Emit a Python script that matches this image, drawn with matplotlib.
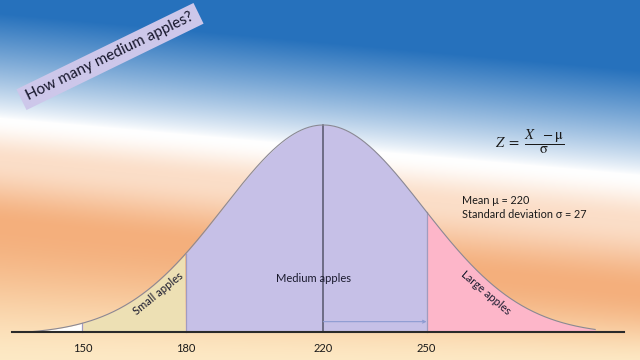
import numpy as np
import matplotlib
matplotlib.use("Agg")
import matplotlib.pyplot as plt
from matplotlib.patches import Polygon

# ---- data ----
tick_values = [150, 180, 220, 250]
tick_labels = ["150", "180", "220", "250"]
mean_value = 220
sd_value = 27
curve_sd = 29            # drawn width of the bell
tail_ends = [134, 299]   # where the drawn curve meets the axis
region_edges = [134, 150, 180, 250, 299]
region_colors = ["#ffffff", "#ede0b4", "#c6c0e7", "#fdb6c9"]
region_names = ["", "Small apples", "Medium apples", "Large apples"]
title_text = "How many medium apples?"

plt.rcParams['font.family'] = ['Lato', 'DejaVu Sans']
plt.rcParams['mathtext.fontset'] = 'stix'

fig = plt.figure(figsize=(6.4, 3.6), dpi=100)

# ---- background gradient ----
H, W = 360, 640
yy, xx = np.mgrid[0:H, 0:W].astype(float)
yw = 118 + 0.089 * xx
yo = 223 + 0.105 * xx
blue = np.array([38, 113, 188]) / 255
white = np.array([1.0, 1.0, 1.0])
peach = np.array([251, 222, 200]) / 255
orange = np.array([244, 175, 124]) / 255
cream = np.array([253, 234, 198]) / 255

def smooth(t):
    t = np.clip(t, 0, 1)
    return t * t * (3 - 2 * t)

tw = 105.0
t_up = np.clip((yw - yy) / tw, 0, 1) ** 0.85
above = (yy <= yw)[..., None]
col_up = white + (blue - white) * t_up[..., None]
g = np.clip((yy - yw) / (yo - yw), 0, 1)
g1 = smooth(g / 0.4)
g2 = smooth((g - 0.4) / 0.6)
col_mid = white + (peach - white) * g1[..., None]
col_mid = col_mid + (orange - peach) * g2[..., None]
h = smooth((yy - yo) / (H + 10 - yo))
col_low = orange + (cream - orange) * h[..., None]
below_o = (yy > yo)[..., None]
img = np.where(above, col_up, np.where(below_o, col_low, col_mid))

bg = fig.add_axes([0, 0, 1, 1])
bg.imshow(img, extent=[0, W, H, 0], aspect='auto', interpolation='bilinear')
bg.set_xlim(0, W)
bg.set_ylim(H, 0)
bg.set_axis_off()

# title box (pixel coordinates)
cx, cy, ang, L, Wd = 110.0, 56.5, np.deg2rad(26), 197.0, 23.0
u = np.array([np.cos(ang), -np.sin(ang)])
n = np.array([np.sin(ang), np.cos(ang)])
c = np.array([cx, cy])
corners = [c - u * L / 2 - n * Wd / 2, c + u * L / 2 - n * Wd / 2,
           c + u * L / 2 + n * Wd / 2, c - u * L / 2 + n * Wd / 2]
bg.add_patch(Polygon(corners, closed=True, fc="#cdc7ea", ec="none", zorder=3))

# ---- main axes ----
ax = fig.add_axes([0, 0, 1, 1])
ax.patch.set_alpha(0)
ax.set_axis_off()
px_per_unit = 3.441
x0 = 433.7 / px_per_unit
ax.set_xlim(x0, x0 + 640 / px_per_unit)
ax.set_ylim(-28 / 207, 332 / 207)

def px2v(p):
    return (p + 433.7) / px_per_unit

def py2y(p):
    return (332 - p) / 207

v = np.linspace(tail_ends[0], tail_ends[1], 600)
e = np.exp(-0.5 * ((tail_ends[0] - mean_value) / curve_sd) ** 2)
dens = (np.exp(-0.5 * ((v - mean_value) / curve_sd) ** 2) - e) / (1 - e)
dens = np.clip(dens, 0, None)

for i in range(len(region_colors)):
    m = (v >= region_edges[i]) & (v <= region_edges[i + 1])
    ax.fill_between(v[m], 0, dens[m], color=region_colors[i], lw=0, zorder=2)

def hgt(x):
    return float(np.interp(x, v, dens))

for b in [150, 180, 250]:
    ax.plot([b, b], [0, hgt(b)], color="#a09cc0", lw=0.9, zorder=3)
ax.plot([mean_value, mean_value], [0, hgt(mean_value)], color="#55556a", lw=1.1, zorder=4)
ax.plot(v, dens, color="#8a8894", lw=0.8, zorder=4)
ax.plot([px2v(12), px2v(624)], [0, 0], color="#2a2a2a", lw=1.5, zorder=5)

ax.annotate("", xy=(250, 0.05), xytext=(mean_value, 0.05),
            arrowprops=dict(arrowstyle="->", color="#8d9bd2", lw=0.8,
                            mutation_scale=5, shrinkA=0, shrinkB=0), zorder=5)

for tv, tl in zip(tick_values, tick_labels):
    ax.text(tv, py2y(348), tl, ha="center", va="center", fontsize=8,
            color="#1a1a1a", zorder=6)

# region labels
ax.text(px2v(313), py2y(279), region_names[2], ha="center", va="center",
        fontsize=8, color="#1a1a2e", zorder=6)
ax.text(px2v(158.5), py2y(293.5), region_names[1], ha="center", va="center",
        fontsize=8, color="#1a1a2e", rotation=39, rotation_mode="anchor", zorder=6)
ax.text(px2v(486), py2y(292.5), region_names[3], ha="center", va="center",
        fontsize=8, color="#1a1a2e", rotation=-40.5, rotation_mode="anchor", zorder=6)

# formula and parameters
fig.text(530 / 640, 1 - 142 / 360, r"$Z\ =\ \dfrac{X\ \ -\mathrm{\mu}}{\mathrm{\sigma}}$",
         ha="center", va="center", fontsize=10.5, color="#1a1a1a")
fig.text(462 / 640, 1 - 200 / 360, "Mean \u03bc = %d" % mean_value,
         ha="left", va="center", fontsize=7.8, color="#1a1a1a")
fig.text(462 / 640, 1 - 214 / 360, "Standard deviation \u03c3 = %d" % sd_value,
         ha="left", va="center", fontsize=7.8, color="#1a1a1a")

# title text
fig.text(cx / 640, 1 - cy / 360, title_text, ha="center", va="center",
         rotation=26, rotation_mode="anchor", fontsize=11, color="#15152a", zorder=4)

fig.savefig("out.png", dpi=100)
